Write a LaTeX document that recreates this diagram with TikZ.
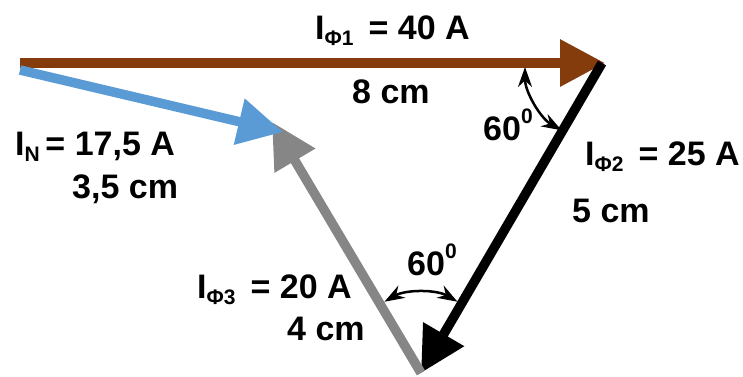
\documentclass[tikz,border=0pt]{standalone}
\usepackage{fontspec}
\setmainfont{Liberation Sans}
\usepackage{tikz}
\usetikzlibrary{positioning, arrows.meta}

\definecolor{phaseone}{HTML}{843C0C}
\definecolor{neutral}{HTML}{5B9BD5}
\definecolor{phasethree}{HTML}{868686}

\newcommand{\Isb}[1]{I\raisebox{-0.2em}{\fontsize{21}{21}\selectfont #1}}
\newcommand{\angdeg}[1]{#1\raisebox{0.5em}{\fontsize{21}{21}\selectfont 0}}

\begin{document}
\begin{tikzpicture}[
                x=1pt, y=-1pt,
                vec/.style={line width=9.5pt, -{Triangle[length=45pt, width=45pt]}},
                angarc/.style={line width=2.5pt, shorten <=4pt, shorten >=4pt, {Stealth[length=20pt, width=14pt]}-{Stealth[length=20pt, width=14pt]}},
                lbl/.style={font=\fontsize{34}{38}\selectfont\bfseries, inner sep=0pt, anchor=base west}
            ]
            \useasboundingbox (0,0) rectangle (743,376);
            % Points of the triangle
            \coordinate (O) at (20, 63);
            \coordinate (A) at (605, 63);
            \coordinate (B) at (421, 373);
            \coordinate (C) at (272, 122);
            \coordinate (N) at (283, 132);
            \coordinate (Ostart) at (20, 70);
            
            % Vectors
            \draw[vec, phaseone] (O) -- (A);
            \draw[vec, black] ([xshift=-3pt]A) -- (B);
            \draw[vec, phasethree] (B) -- (C);
            \draw[vec, neutral] (Ostart) -- (N);
            
            % Angles
            \draw[angarc] ([shift={(180:80)}]A) arc[start angle=180, end angle=120, radius=80];
            \draw[angarc] ([shift={(240:80)}]B) arc[start angle=240, end angle=300, radius=80];
            
            % Labels
            \node[lbl] (one) at (315, 39) {\Isb{Φ1}\ \,= 40 A};
            \node[lbl] (onelen) at (352, 103) {8 cm};
            \node[lbl] (nul) at (15, 155) {\Isb{N}\,= 17,5 A};
            \node[lbl] (nullen) at (72, 198) {3,5 cm};
            \node[lbl] (two) at (585, 165) {\Isb{Φ2}\ \,= 25 A};
            \node[lbl] (twolen) at (572, 222) {5 cm};
            \node[lbl] (three) at (197, 298) {\Isb{Φ3}\ \,= 20 A};
            \node[lbl] (threelen) at (287, 340) {4 cm};
            \node[lbl] (angtop) at (483, 140) {\angdeg{60}};
            \node[lbl] (angbot) at (407, 275) {\angdeg{60}};
            \end{tikzpicture}
\end{document}
